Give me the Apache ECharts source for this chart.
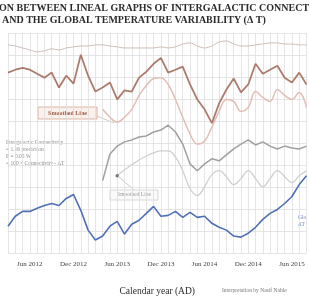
<!DOCTYPE html>
<html>
<head>
<meta charset="utf-8">
<script src="https://cdn.jsdelivr.net/npm/echarts@6/dist/echarts.min.js"></script>
<style>
  html, body { margin: 0; padding: 0; background: #fff; }
  #chart { width: 309px; height: 301px; }
</style>
</head>
<body>
<div id="chart"></div>
<script>
// 月份 (Mar 2012 .. Aug 2015)
var months = ['Mar 2012','Apr 2012','May 2012','Jun 2012','Jul 2012','Aug 2012','Sep 2012','Oct 2012','Nov 2012','Dec 2012',
  'Jan 2013','Feb 2013','Mar 2013','Apr 2013','May 2013','Jun 2013','Jul 2013','Aug 2013','Sep 2013','Oct 2013','Nov 2013','Dec 2013',
  'Jan 2014','Feb 2014','Mar 2014','Apr 2014','May 2014','Jun 2014','Jul 2014','Aug 2014','Sep 2014','Oct 2014','Nov 2014','Dec 2014',
  'Jan 2015','Feb 2015','Mar 2015','Apr 2015','May 2015','Jun 2015','Jul 2015','Aug 2015'];
var tickMonths = ['Jun', 'Dec'];

// top thin line
var topLine = [94.6,94.1,93.2,92.3,91.4,91.9,92.8,92.3,93.2,93.7,94.1,94.1,94.6,94.6,94.1,93.7,93.2,93.2,93.2,93.2,93.2,
  93.7,93.2,93.7,95.0,95.5,94.1,93.2,94.1,95.9,96.4,95.0,94.1,94.1,94.6,95.0,95.5,95.5,95.0,95.0,94.6,94.6];
// brown line
var brownLine = [82,83.3,84.2,83.3,81.5,79.7,82,75.2,80.6,77,90.1,80.6,73.4,75.2,77.5,69.8,73.9,73.4,79.7,82.4,86,
  88.7,82,83.3,84.7,76.6,69.8,65.3,59,68,74.3,79.3,73,76.6,86,81.5,83.3,85.1,79.7,77.5,82,76.6];
// smoothed brown line
var brownSmooth = [null,null,null,null,null,null,null,null,null,null,null,null,null,
  65.3,61.7,59.5,61.7,65.3,71.6,76.1,79.3,79.7,76.6,69.8,61.7,54.1,49.5,50.9,57.2,64.4,69.8,68.9,64.4,66.2,73.4,70.7,68.9,74.3,71.6,69.8,73.0,66.2];
// intergalactic connectivity
var grayLine = [null,null,null,null,null,null,null,null,null,null,null,null,null,
  32.9,45.0,48.6,50.5,51.4,52.7,53.2,55.0,55.9,58.1,55.0,49.5,40.5,37.4,40.5,42.8,41.9,44.6,47.3,49.5,51.4,49.1,50.5,48.6,47.3,48.6,47.7,47.3,48.6];
// smoothed gray line
var graySmooth = [null,null,null,null,null,null,null,null,null,null,null,null,null,null,null,
  35.1,37.8,40.1,42.3,44.1,45.5,46.4,46.4,43.7,37.4,29.3,26.1,30.2,35.6,37.4,34.7,31.1,33.8,37.4,33.8,30.2,33.8,37.4,34.7,32.0,35.1,37.4];
// global temperature variability
var blueLine = [12.2,16.7,18.9,18.9,20.3,21.6,22.5,21.6,24.8,26.6,19.4,10.4,5.9,7.7,12.2,14.4,8.6,13.1,14.9,18.0,21.2,
  16.7,17.1,18.9,16.2,18.5,16.2,16.7,13.5,11.7,10.4,7.7,7.2,9.0,11.7,15.3,18.0,19.8,22.5,25.7,31.1,35.1];

function startDot(arr, color) {
  var first = true;
  return arr.map(function (v) {
    if (v !== null && first) {
      first = false;
      return { value: v, symbol: 'circle', symbolSize: 3.5, itemStyle: { color: color } };
    }
    return v;
  });
}

var serif = 'Liberation Serif';
var myChart = echarts.init(document.getElementById('chart'));
var option = {
  animation: false,
  backgroundColor: '#fff',
  grid: { left: 8, right: 2.5, top: 33, bottom: 46 },
  xAxis: {
    type: 'category',
    data: months,
    boundaryGap: false,
    axisLine: { show: false },
    axisTick: { show: false },
    axisLabel: {
      interval: function (idx, val) { return tickMonths.indexOf(val.slice(0, 3)) >= 0; },
      fontFamily: serif, fontSize: 7, color: '#444', margin: 8
    },
    splitLine: { show: true, interval: 0, lineStyle: { color: '#dedede', width: 0.8 } },
    name: 'Calendar year (AD)',
    nameLocation: 'middle',
    nameGap: 33,
    nameTextStyle: { fontFamily: serif, fontSize: 9.5, color: '#2b2b2b' }
  },
  yAxis: {
    type: 'value', min: 0, max: 100, interval: 10,
    axisLine: { show: false }, axisTick: { show: false }, axisLabel: { show: false },
    splitLine: { lineStyle: { color: '#dedede', width: 0.8 } }
  },
  series: [
    { name: 'top', type: 'line', data: topLine, symbol: 'none', smooth: 0.3,
      lineStyle: { color: '#cdbfb8', width: 1 } },
    { name: 'smooth1', type: 'line', data: startDot(brownSmooth, '#8a4a3a'), symbol: 'none', smooth: 0.4,
      lineStyle: { color: '#e2beb5', width: 1.5 } },
    { name: 'brown', type: 'line', data: brownLine, symbol: 'none',
      lineStyle: { color: '#ab7c6d', width: 1.8 } },
    { name: 'smooth2', type: 'line', data: startDot(graySmooth, '#777'), symbol: 'none', smooth: 0.4,
      lineStyle: { color: '#cfcfcf', width: 1.3 } },
    { name: 'gray', type: 'line', data: grayLine, symbol: 'none',
      lineStyle: { color: '#a0a0a0', width: 1.5 } },
    { name: 'blue', type: 'line', data: blueLine, symbol: 'none',
      lineStyle: { color: '#4f6fb8', width: 1.6 } }
  ],
  graphic: [
    { type: 'text', left: -1, top: 3, style: { text: 'ON BETWEEN LINEAL GRAPHS OF INTERGALACTIC CONNECTIVITY',
      font: 'bold 10px "Liberation Serif"', fill: '#2b2b2b' } },
    { type: 'text', left: 2, top: 15, style: { text: 'AND THE GLOBAL TEMPERATURE VARIABILITY (Δ T)',
      font: 'bold 10px "Liberation Serif"', fill: '#2b2b2b' } },
    // smoothed line label (brown)
    { type: 'line', shape: { x1: 97, y1: 116, x2: 114, y2: 123 }, style: { stroke: '#d9b8aa', lineWidth: 0.8 } },
    { type: 'rect', shape: { x: 38, y: 107, width: 59, height: 12 },
      style: { fill: '#fbf1ec', stroke: '#d3a58f', lineWidth: 0.8 } },
    { type: 'text', x: 67.5, y: 113, style: { text: 'Smoothed Line', font: 'bold 6px "Liberation Serif"',
      fill: '#9c5a40', align: 'center', verticalAlign: 'middle' } },
    // smoothed line label (gray)
    { type: 'line', shape: { x1: 119, y1: 177, x2: 134, y2: 190 }, style: { stroke: '#bbb', lineWidth: 0.8 } },
    { type: 'rect', shape: { x: 110, y: 190, width: 48, height: 10 },
      style: { fill: '#fafafa', stroke: '#cfcfcf', lineWidth: 0.8 } },
    { type: 'text', x: 134, y: 195, style: { text: 'Smoothed Line', font: '5.5px "Liberation Serif"',
      fill: '#999', align: 'center', verticalAlign: 'middle' } },
    // legend text block
    { type: 'text', left: 6, top: 139, style: { text: 'Intergalactic Connectivity\n= 1.16 prediction\nP = 0.05 W\n= 100 × Connectivity - ΔT',
      font: '5.5px "Liberation Serif"', fill: '#8c8c8c', lineHeight: 7 } },
    { type: 'text', left: 298, top: 214, style: { text: 'Glo\nΔT', font: '5.5px "Liberation Serif"', fill: '#6f87c4', lineHeight: 7 } },
    { type: 'text', left: 222, top: 288, style: { text: 'Interpretation by Nasif Nahle',
      font: '5.5px "Liberation Serif"', fill: '#777' } }
  ]
};
myChart.setOption(option);
</script>
</body>
</html>
